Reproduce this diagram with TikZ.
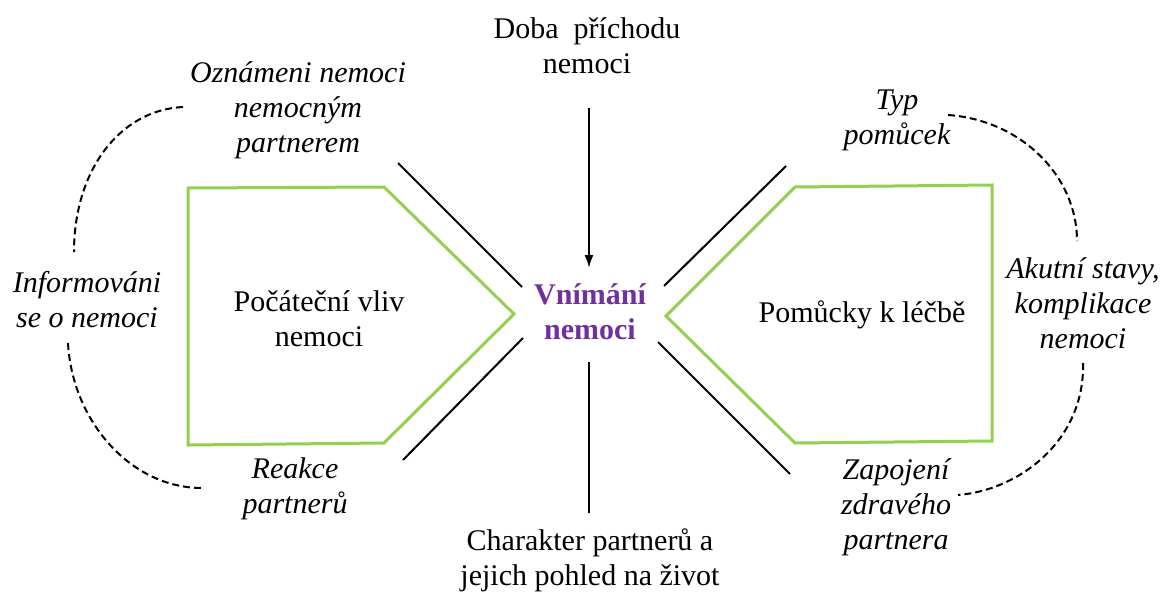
\documentclass[tikz,border=0pt]{standalone}
\usepackage{fontspec}
\setmainfont{Liberation Serif}
\usetikzlibrary{arrows.meta}
\definecolor{lgreen}{HTML}{92D050}
\definecolor{vpurple}{HTML}{7030A0}
\begin{document}
\begin{tikzpicture}[x=1pt,y=-1pt,
  txt/.style={align=center, font=\fontsize{30}{35}\selectfont, inner sep=0pt},
  itx/.style={align=center, font=\fontsize{30}{35}\selectfont\itshape, inner sep=0pt},
  pent/.style={draw=lgreen, line width=3pt, line join=miter},
  bar/.style={draw=black, line width=2pt},
  dsh/.style={draw=black, line width=2pt, dash pattern=on 7pt off 4pt}]
\useasboundingbox (0,0) rectangle (1161,594);
\fill[white] (0,0) rectangle (1161,594);
% pentagons
\draw[pent] (188,188) -- (384,187) -- (514,314) -- (384,443) -- (188,445) -- cycle;
\draw[pent] (795,187) -- (992,185) -- (992,441) -- (795,443) -- (666,316) -- cycle;
% coordinates
\coordinate (ul1) at (398,163); \coordinate (ul2) at (522,287);
\coordinate (ll1) at (523,338); \coordinate (ll2) at (403,460);
\coordinate (ur1) at (664,286); \coordinate (ur2) at (786,166);
\coordinate (lr1) at (658,342); \coordinate (lr2) at (790,474);
\coordinate (at) at (589,108); \coordinate (ah) at (589,268);
\coordinate (bt) at (589,362); \coordinate (bb) at (589,513);
\draw[bar] (ul1) -- (ul2);
\draw[bar] (ll1) -- (ll2);
\draw[bar] (ur1) -- (ur2);
\draw[bar] (lr1) -- (lr2);
\draw[bar,-{Latex[length=13pt,width=9pt]}] (at) -- (ah);
\draw[bar] (bt) -- (bb);
% dashed arcs
\coordinate (d1a) at (183,107); \coordinate (d1b) at (74,252);
\coordinate (d2a) at (68,343); \coordinate (d2b) at (202,488);
\coordinate (d3a) at (948,115); \coordinate (d3b) at (1077,241);
\coordinate (d4a) at (1083,363); \coordinate (d4b) at (958,495);
\draw[dsh] (d1a) .. controls (120,110) and (74,170) .. (d1b);
\draw[dsh] (d2a) .. controls (72,420) and (130,488) .. (d2b);
\draw[dsh] (d3a) .. controls (1020,120) and (1077,175) .. (d3b);
\draw[dsh] (d4a) .. controls (1085,440) and (1020,490) .. (d4b);
% texts
\node[txt] (doba) at (587,46) {Doba\ \ příchodu\\nemoci};
\node[txt, text=vpurple, font=\fontsize{30}{35}\selectfont\bfseries] (vn) at (590,312) {Vnímání\\nemoci};
\node[itx] (ozn) at (298,110) {Oznámeni nemoci\\nemocným\\partnerem};
\node[itx] (inf) at (87,300) {Informováni\\se o nemoci};
\node[txt] (poc) at (319,319) {Počáteční vliv\\nemoci};
\node[itx] (rea) at (295,489) {Reakce\\partnerů};
\node[txt] (cha) at (590,560) {Charakter partnerů a\\jejich pohled na život};
\node[itx] (typ) at (897,120) {Typ\\pomůcek};
\node[itx] (aku) at (1083,303) {Akutní stavy,\\komplikace\\nemoci};
\node[txt] (pom) at (862,315) {Pomůcky k léčbě};
\node[itx] (zap) at (896,507) {Zapojení\\zdravého\\partnera};
\end{tikzpicture}
\end{document}
